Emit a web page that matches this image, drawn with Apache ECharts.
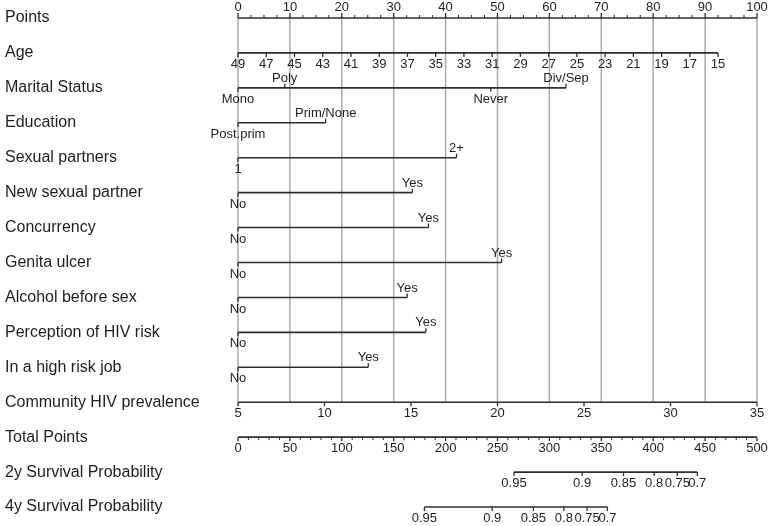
<!DOCTYPE html>
<html><head><meta charset="utf-8">
<script src="https://cdn.jsdelivr.net/npm/echarts@6/dist/echarts.min.js"></script>
<style>html,body{margin:0;padding:0;background:#fff}#c{width:770px;height:526px}</style>
</head><body><div id="c"></div>
<script>
// ---------------- data ----------------
const rowNames = ['Points','Age','Marital Status','Education','Sexual partners','New sexual partner',
  'Concurrency','Genita ulcer','Alcohol before sex','Perception of HIV risk','In a high risk job',
  'Community HIV prevalence','Total Points','2y Survival Probability','4y Survival Probability'];
const pointTicks = [0,10,20,30,40,50,60,70,80,90,100];
const pointMinorStep = 2.5;
const ageTicks = [49,47,45,43,41,39,37,35,33,31,29,27,25,23,21,19,17,15];
const ageMaxPoints = 92.5;           // points given to age 15 (age 49 = 0)
const maritalLevels = ['Mono','Poly','Never','Div/Sep'];
const maritalPoints = [0, 9.0, 48.7, 63.2];
const educationLevels = ['Post.prim','Prim/None'];
const educationPoints = [0, 16.9];
const partnerLevels = ['1','2+'];
const partnerPoints = [0, 42.1];
const yesNoLevels = ['No','Yes'];
const newPartnerPoints = [0, 33.6];
const concurrencyPoints = [0, 36.7];
const ulcerPoints = [0, 50.8];
const alcoholPoints = [0, 32.6];
const riskPerceptionPoints = [0, 36.2];
const riskJobPoints = [0, 25.1];
const prevalenceTicks = [5,10,15,20,25,30,35];
const totalTicks = [0,50,100,150,200,250,300,350,400,450,500];
const totalMinorStep = 10;
const survivalLabels = ['0.95','0.9','0.85','0.8','0.75','0.7'];
const surv2yTotals = [265.9, 331.5, 371.4, 400.9, 423.2, 442.5];
const surv4yTotals = [179.6, 244.9, 284.5, 313.9, 336.3, 355.9];

// ---------------- build row specs ----------------
const totalToPts = t => t * 100 / 500;
function catRow(levels, pts) {
  return { ticks: levels.map((l, i) => ({ p: pts[i], label: l, side: i % 2 === 0 ? 'below' : 'above' })) };
}
const rows = [];
{
  const minor = [];
  for (let v = 0; v <= 100; v += pointMinorStep) if (pointTicks.indexOf(v) < 0) minor.push(v);
  rows.push({ ticks: pointTicks.map(v => ({ p: v, label: String(v), side: 'above', len: 5 })), minor, minorSide: 'above' });
}
rows.push({ ticks: ageTicks.map(a => ({ p: (49 - a) / (49 - 15) * ageMaxPoints, label: String(a), side: 'below' })) });
rows.push(catRow(maritalLevels, maritalPoints));
rows.push(catRow(educationLevels, educationPoints));
rows.push(catRow(partnerLevels, partnerPoints));
rows.push(catRow(yesNoLevels, newPartnerPoints));
rows.push(catRow(yesNoLevels, concurrencyPoints));
rows.push(catRow(yesNoLevels, ulcerPoints));
rows.push(catRow(yesNoLevels, alcoholPoints));
rows.push(catRow(yesNoLevels, riskPerceptionPoints));
rows.push(catRow(yesNoLevels, riskJobPoints));
rows.push({ ticks: prevalenceTicks.map(v => ({ p: (v - 5) / 30 * 100, label: String(v), side: 'below' })) });
{
  const minor = [];
  for (let v = 0; v <= 500; v += totalMinorStep) if (totalTicks.indexOf(v) < 0) minor.push(totalToPts(v));
  rows.push({ ticks: totalTicks.map(v => ({ p: totalToPts(v), label: String(v), side: 'below' })), minor, minorSide: 'below' });
}
rows.push({ ticks: survivalLabels.map((l, i) => ({ p: totalToPts(surv2yTotals[i]), label: l, side: 'below' })) });
rows.push({ ticks: survivalLabels.map((l, i) => ({ p: totalToPts(surv4yTotals[i]), label: l, side: 'below' })) });

const LINE = '#2e2e2e', GRID = '#ababab', TEXT = '#1e1e1e';
const FONT = 'Liberation Sans, Arial, sans-serif';

function renderRow(params, api) {
  const r = rows[params.dataIndex];
  const children = [];
  const ps = r.ticks.map(t => t.p);
  const lo = Math.min.apply(null, ps), hi = Math.max.apply(null, ps);
  const a = api.coord([lo, params.dataIndex]), b = api.coord([hi, params.dataIndex]);
  const y = a[1];
  children.push({ type: 'line', shape: { x1: a[0], y1: y, x2: b[0], y2: y }, style: { stroke: LINE, lineWidth: 1.6 } });
  (r.minor || []).forEach(p => {
    const x = api.coord([p, params.dataIndex])[0];
    const d = r.minorSide === 'above' ? -3 : 3;
    children.push({ type: 'line', shape: { x1: x, y1: y, x2: x, y2: y + d }, style: { stroke: LINE, lineWidth: 1 } });
  });
  r.ticks.forEach(t => {
    const x = api.coord([t.p, params.dataIndex])[0];
    const len = t.len || 4;
    const up = t.side === 'above';
    children.push({ type: 'line', shape: { x1: x, y1: y, x2: x, y2: up ? y - len : y + len }, style: { stroke: LINE, lineWidth: 1.3 } });
    children.push({ type: 'text', x: x, y: up ? y - len + 1 : y + 5,
      style: { text: t.label, align: 'center', verticalAlign: up ? 'bottom' : 'top', fontSize: 13, fontFamily: FONT, fill: TEXT } });
  });
  return { type: 'group', children };
}

function renderGrid(params, api) {
  const v = pointTicks[params.dataIndex];
  const a = api.coord([v, 0]), b = api.coord([v, 11]);
  return { type: 'line', shape: { x1: a[0], y1: a[1], x2: b[0], y2: b[1] }, style: { stroke: GRID, lineWidth: 1.5 } };
}

const chart = echarts.init(document.getElementById('c'), null, { renderer: 'canvas' });
chart.setOption({
  animation: false,
  backgroundColor: '#fff',
  grid: { left: 238, width: 519, top: 0.5, height: 524 },
  xAxis: { type: 'value', min: 0, max: 100, show: false },
  yAxis: {
    type: 'category', data: rowNames, inverse: true,
    axisLine: { show: false }, axisTick: { show: false }, splitLine: { show: false },
    axisLabel: { margin: 233, align: 'left', fontSize: 16, fontFamily: FONT, color: TEXT }
  },
  series: [
    { type: 'custom', renderItem: renderGrid, data: pointTicks.map(v => [v, 0]), clip: false, z: 1, silent: true },
    { type: 'custom', renderItem: renderRow, data: rowNames.map((n, i) => [0, i]), clip: false, z: 2, silent: true }
  ]
});
</script>
</body></html>
